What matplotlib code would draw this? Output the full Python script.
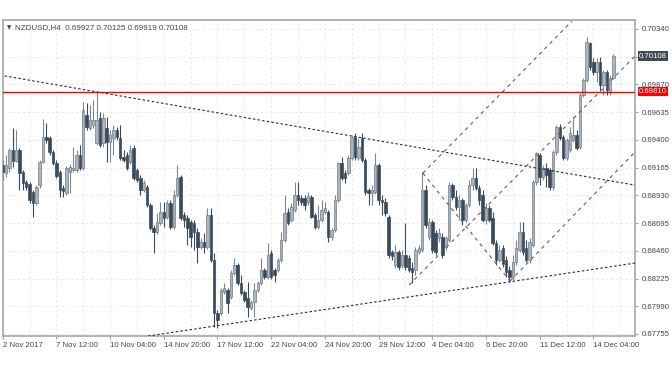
import matplotlib
matplotlib.use("Agg")
import matplotlib.pyplot as plt
import matplotlib.transforms as mtrans
import numpy as np

# ---------------- data (NZDUSD H4 candles) ----------------
opens = [
    0.69186, 0.69118, 0.69161, 0.69313, 0.69220, 0.69313, 0.69127, 0.69042, 0.69026, 0.68958,
    0.68865, 0.69017, 0.69212, 0.69424, 0.69415, 0.69297, 0.69203, 0.69127, 0.68992, 0.68949,
    0.69127, 0.69144, 0.69144, 0.69271, 0.69161, 0.69610, 0.69500, 0.69525, 0.69373, 0.69585,
    0.69373, 0.69500, 0.69381, 0.69415, 0.69483, 0.69415, 0.69254, 0.69271, 0.69212, 0.69330,
    0.69144, 0.69076, 0.68975, 0.69000, 0.68848, 0.68653, 0.68619, 0.68695, 0.68788, 0.68746,
    0.68865, 0.68661, 0.68932, 0.69085, 0.68763, 0.68738, 0.68704, 0.68695, 0.68619, 0.68492,
    0.68534, 0.68492, 0.68763, 0.68382, 0.67933, 0.67933, 0.68111, 0.68128, 0.68068, 0.68272,
    0.68339, 0.68187, 0.68111, 0.68060, 0.67975, 0.68026, 0.68128, 0.68187, 0.68297, 0.68238,
    0.68441, 0.68297, 0.68297, 0.68382, 0.68551, 0.68788, 0.68721, 0.68805, 0.68932, 0.68907,
    0.68907, 0.68873, 0.68915, 0.68763, 0.68661, 0.68721, 0.68788, 0.68788, 0.68577, 0.68636,
    0.68890, 0.69203, 0.69118, 0.69118, 0.69246, 0.69424, 0.69246, 0.69415, 0.69229, 0.68975,
    0.68949, 0.68958, 0.69186, 0.68890, 0.68873, 0.68746, 0.68450, 0.68339, 0.68450, 0.68339,
    0.68424, 0.68399, 0.68314, 0.68297, 0.68450, 0.68466, 0.68975, 0.68577, 0.68704, 0.68610,
    0.68568, 0.68577, 0.68492, 0.68551, 0.69017, 0.68915, 0.68831, 0.68890, 0.68721, 0.68848,
    0.69017, 0.69076, 0.68992, 0.68932, 0.68721, 0.68822, 0.68738, 0.68526, 0.68382, 0.68483,
    0.68382, 0.68297, 0.68238, 0.68365, 0.68466, 0.68619, 0.68483, 0.68382, 0.68509, 0.69042,
    0.69271, 0.69085, 0.69161, 0.69144, 0.69000, 0.69297, 0.69508, 0.69424, 0.69246, 0.69313,
    0.69398, 0.69441, 0.69339, 0.69779, 0.69906, 0.70220, 0.70059, 0.69974, 0.70059, 0.69864,
    0.69974, 0.69805, 0.69927,
]
highs = [
    0.69229, 0.69271, 0.69330, 0.69500, 0.69483, 0.69330, 0.69144, 0.69059, 0.69042, 0.68975,
    0.69017, 0.69229, 0.69576, 0.69542, 0.69432, 0.69313, 0.69229, 0.69144, 0.69017, 0.69178,
    0.69195, 0.69339, 0.69313, 0.69356, 0.69720, 0.69712, 0.69695, 0.69737, 0.69805, 0.69635,
    0.69627, 0.69593, 0.69483, 0.69525, 0.69508, 0.69525, 0.69313, 0.69297, 0.69356, 0.69356,
    0.69161, 0.69102, 0.69059, 0.69017, 0.68865, 0.68678, 0.68780, 0.68873, 0.68873, 0.68890,
    0.68890, 0.68975, 0.69186, 0.69102, 0.68788, 0.68763, 0.68721, 0.68721, 0.68653, 0.68568,
    0.68610, 0.68822, 0.68822, 0.68441, 0.67958, 0.68145, 0.68187, 0.68145, 0.68297, 0.68399,
    0.68356, 0.68255, 0.68128, 0.68195, 0.68043, 0.68187, 0.68204, 0.68399, 0.68314, 0.68526,
    0.68466, 0.68314, 0.68399, 0.68619, 0.68932, 0.68822, 0.68865, 0.69042, 0.69042, 0.68932,
    0.68932, 0.68958, 0.68932, 0.68780, 0.68848, 0.68890, 0.68873, 0.68805, 0.68653, 0.68932,
    0.69212, 0.69254, 0.69144, 0.69271, 0.69441, 0.69457, 0.69415, 0.69457, 0.69246, 0.68992,
    0.69017, 0.69288, 0.69203, 0.68932, 0.68907, 0.68763, 0.68466, 0.68509, 0.68466, 0.68466,
    0.68695, 0.68424, 0.68365, 0.68492, 0.68509, 0.69127, 0.69017, 0.68738, 0.68721, 0.68636,
    0.68653, 0.68610, 0.68585, 0.69042, 0.69034, 0.68975, 0.68932, 0.68907, 0.68865, 0.69059,
    0.69161, 0.69161, 0.69017, 0.68975, 0.68865, 0.68848, 0.68788, 0.68551, 0.68509, 0.68509,
    0.68416, 0.68331, 0.68424, 0.68551, 0.68704, 0.68704, 0.68551, 0.68568, 0.69059, 0.69297,
    0.69288, 0.69186, 0.69203, 0.69161, 0.69313, 0.69525, 0.69534, 0.69441, 0.69415, 0.69508,
    0.69593, 0.69483, 0.69796, 0.69923, 0.70271, 0.70228, 0.70093, 0.70093, 0.70101, 0.69991,
    0.69991, 0.69949, 0.70125,
]
lows = [
    0.69059, 0.69085, 0.69127, 0.69169, 0.69212, 0.68975, 0.68975, 0.68975, 0.68865, 0.68746,
    0.68848, 0.68992, 0.69203, 0.69373, 0.69271, 0.69186, 0.69076, 0.68915, 0.68915, 0.68932,
    0.68949, 0.69127, 0.69127, 0.69144, 0.69144, 0.69483, 0.69483, 0.69500, 0.69356, 0.69339,
    0.69339, 0.69212, 0.69212, 0.69271, 0.69398, 0.69229, 0.69212, 0.69144, 0.69195, 0.69059,
    0.69042, 0.68932, 0.68958, 0.68831, 0.68636, 0.68441, 0.68602, 0.68678, 0.68661, 0.68729,
    0.68644, 0.68644, 0.68915, 0.68721, 0.68661, 0.68509, 0.68492, 0.68466, 0.68356, 0.68475,
    0.68441, 0.68475, 0.68365, 0.67814, 0.67806, 0.67916, 0.68094, 0.67933, 0.68051, 0.68255,
    0.68170, 0.68085, 0.68026, 0.67899, 0.67958, 0.67899, 0.68111, 0.68170, 0.68221, 0.68221,
    0.68221, 0.68195, 0.68280, 0.68365, 0.68534, 0.68678, 0.68704, 0.68788, 0.68848, 0.68848,
    0.68805, 0.68848, 0.68738, 0.68644, 0.68644, 0.68704, 0.68771, 0.68534, 0.68551, 0.68619,
    0.68873, 0.69059, 0.69034, 0.69102, 0.69229, 0.69229, 0.69229, 0.69212, 0.68932, 0.68848,
    0.68848, 0.68941, 0.68848, 0.68763, 0.68754, 0.68399, 0.68382, 0.68314, 0.68297, 0.68314,
    0.68297, 0.68280, 0.68187, 0.68255, 0.68433, 0.68450, 0.68653, 0.68551, 0.68441, 0.68424,
    0.68534, 0.68399, 0.68466, 0.68534, 0.68890, 0.68805, 0.68721, 0.68678, 0.68704, 0.68831,
    0.68975, 0.68975, 0.68848, 0.68704, 0.68687, 0.68704, 0.68509, 0.68339, 0.68365, 0.68323,
    0.68238, 0.68195, 0.68212, 0.68339, 0.68450, 0.68424, 0.68365, 0.68356, 0.68492, 0.69017,
    0.69017, 0.69059, 0.69000, 0.68975, 0.68975, 0.69271, 0.69398, 0.69229, 0.69229, 0.69297,
    0.69381, 0.69313, 0.69322, 0.69762, 0.69889, 0.69991, 0.69949, 0.69889, 0.69822, 0.69779,
    0.69779, 0.69779, 0.69919,
]
closes = [
    0.69127, 0.69186, 0.69313, 0.69220, 0.69313, 0.69118, 0.69034, 0.69000, 0.68890, 0.68865,
    0.69000, 0.69212, 0.69424, 0.69398, 0.69297, 0.69203, 0.69093, 0.68975, 0.68966, 0.69161,
    0.69169, 0.69161, 0.69271, 0.69161, 0.69652, 0.69508, 0.69568, 0.69568, 0.69568, 0.69356,
    0.69585, 0.69381, 0.69441, 0.69483, 0.69424, 0.69246, 0.69229, 0.69161, 0.69313, 0.69076,
    0.69059, 0.68975, 0.69034, 0.68848, 0.68653, 0.68619, 0.68704, 0.68788, 0.68738, 0.68865,
    0.68661, 0.68932, 0.69076, 0.68738, 0.68721, 0.68653, 0.68577, 0.68619, 0.68492, 0.68534,
    0.68492, 0.68763, 0.68382, 0.67933, 0.67874, 0.68128, 0.68145, 0.68018, 0.68272, 0.68339,
    0.68187, 0.68102, 0.68043, 0.67984, 0.68026, 0.68128, 0.68187, 0.68297, 0.68238, 0.68424,
    0.68238, 0.68255, 0.68382, 0.68551, 0.68780, 0.68695, 0.68831, 0.68932, 0.68890, 0.68873,
    0.68848, 0.68924, 0.68746, 0.68661, 0.68721, 0.68805, 0.68822, 0.68577, 0.68636, 0.68890,
    0.69203, 0.69076, 0.69076, 0.69246, 0.69424, 0.69254, 0.69339, 0.69229, 0.68958, 0.68949,
    0.68975, 0.69186, 0.68890, 0.68873, 0.68780, 0.68424, 0.68416, 0.68450, 0.68323, 0.68424,
    0.68323, 0.68297, 0.68280, 0.68466, 0.68483, 0.68975, 0.68678, 0.68704, 0.68466, 0.68450,
    0.68610, 0.68424, 0.68568, 0.69017, 0.68915, 0.68831, 0.68890, 0.68721, 0.68848, 0.69017,
    0.69076, 0.68992, 0.68890, 0.68721, 0.68822, 0.68721, 0.68526, 0.68382, 0.68466, 0.68348,
    0.68280, 0.68238, 0.68365, 0.68483, 0.68619, 0.68450, 0.68382, 0.68534, 0.69042, 0.69288,
    0.69085, 0.69161, 0.69102, 0.69000, 0.69297, 0.69508, 0.69415, 0.69246, 0.69398, 0.69457,
    0.69441, 0.69330, 0.69779, 0.69906, 0.70228, 0.70017, 0.69974, 0.70059, 0.69864, 0.69974,
    0.69822, 0.69923, 0.70108,
]

x_tick_bars = [0, 16, 32, 48, 64, 80, 96, 112, 128, 144, 160, 176]
x_tick_labels = ["2 Nov 2017", "7 Nov 12:00", "10 Nov 04:00", "14 Nov 20:00",
                 "17 Nov 12:00", "22 Nov 04:00", "24 Nov 20:00", "29 Nov 12:00",
                 "4 Dec 04:00", "6 Dec 20:00", "11 Dec 12:00", "14 Dec 04:00"]
y_ticks = [0.70340, 0.70105, 0.69870, 0.69635, 0.69400, 0.69165, 0.68930,
           0.68695, 0.68460, 0.68225, 0.67990, 0.67755]
y_tick_labels = ["0.70340", "", "0.69870", "0.69635", "0.69400", "0.69165", "0.68930",
                 "0.68695", "0.68460", "0.68225", "0.67990", "0.67755"]

symbol_title = "NZDUSD,H4  0.69927 0.70125 0.69919 0.70108"
level_price = 0.69810
last_price = 0.70108

# drawn objects (bar index, price) end points
resistance_pts = ([-0.8, 188.4], [0.69949, 0.69017])
support_pts = ([43.3, 188.4], [0.67738, 0.68356])
channel_top_pts = ([125.2, 169.6], [0.69118, 0.70406])
channel_mid_pts = ([121.1, 188.4], [0.68170, 0.70110])
channel_low_pts = ([151.2, 188.4], [0.68204, 0.69297])
cross_pts = ([125.2, 151.2], [0.69118, 0.68204])

# ---------------- figure ----------------
W, H = 672, 372
fig = plt.figure(figsize=(W / 100, H / 100), dpi=100)
fig.patch.set_facecolor("white")
ax_l, ax_r, ax_t, ax_b = 2.5, 635.0, 20.0, 336.0
ax = fig.add_axes([ax_l / W, (H - ax_b) / H, (ax_r - ax_l) / W, (ax_b - ax_t) / H])
ax.set_facecolor("white")

o = np.array(opens); h = np.array(highs); l = np.array(lows); c = np.array(closes)
idx = np.arange(len(c))
bull = c >= o

bull_fill = "#aeb5bd"
bull_edge = "#717b86"
bear_col = "#3b4a5b"

# grid
grid_style = dict(color="#e6e6e6", lw=0.7, ls=(0, (2, 3)), zorder=0)
for yt in y_ticks:
    ax.axhline(yt, **grid_style)
for xv in range(0, 189, 8):
    ax.axvline(xv, **grid_style)

# wicks
ax.vlines(idx[bull], l[bull], h[bull], color="#7d8690", lw=0.8, zorder=2)
ax.vlines(idx[~bull], l[~bull], h[~bull], color=bear_col, lw=0.8, zorder=2)
# bodies
bh = np.maximum(np.abs(c - o), 0.00004)
bb = np.minimum(o, c)
ax.bar(idx[bull], bh[bull], bottom=bb[bull], width=0.74, color=bull_fill,
       edgecolor=bull_edge, linewidth=0.5, zorder=3)
ax.bar(idx[~bull], bh[~bull], bottom=bb[~bull], width=0.74, color=bear_col,
       edgecolor=bear_col, linewidth=0.5, zorder=3)

# objects
trend_style = dict(color="#2a2a2a", lw=0.8, ls=(0, (2.2, 2.0)), zorder=4)
chan_style = dict(color="#606060", lw=0.8, ls=(0, (3.2, 3.6)), zorder=4)
ax.plot(*resistance_pts, **trend_style)
ax.plot(*support_pts, **trend_style)
ax.plot(*channel_top_pts, **chan_style)
ax.plot(*channel_mid_pts, **chan_style)
ax.plot(*channel_low_pts, **chan_style)
ax.plot(*cross_pts, **chan_style)
ax.axhline(level_price, color="#ff0000", lw=1.0, zorder=5)

ax.set_xlim((ax_l - 2.7) / 3.356, (ax_r - 2.7) / 3.356)
ax.set_ylim(0.67738, 0.70416)

# axes styling
frame_col = "#9ba1a8"
for s in ax.spines.values():
    s.set_color(frame_col)
    s.set_linewidth(1.1)

font = "Liberation Sans"
ax.yaxis.tick_right()
ax.set_yticks(y_ticks)
ax.set_yticklabels(y_tick_labels)
ax.set_xticks(x_tick_bars)
ax.set_xticklabels(x_tick_labels, ha="left")
ax.tick_params(axis="both", direction="out", length=2.5, width=0.8, color=frame_col,
               labelsize=5.6, labelcolor="#454545")
ax.tick_params(axis="x", pad=1.8)
ax.tick_params(axis="y", pad=2.5)
for t in ax.get_xticklabels() + ax.get_yticklabels():
    t.set_fontfamily(font)

# price labels on the right scale
blend = mtrans.blended_transform_factory(ax.transAxes, ax.transData)
xoff = 1 + 4.0 / (ax_r - ax_l)
ax.text(xoff, last_price, "0.70108", transform=blend, ha="left", va="center",
        fontsize=5.6, family=font, color="white", zorder=10, clip_on=False,
        bbox=dict(boxstyle="square,pad=0.18", fc="#404a55", ec="none"))
ax.text(xoff, level_price, "0.69810", transform=blend, ha="left", va="center",
        fontsize=5.6, family=font, color="white", zorder=10, clip_on=False,
        bbox=dict(boxstyle="square,pad=0.18", fc="#ff0000", ec="none"))

# title
fig.text(6.5 / W, 1 - 27.5 / H, "\u25bc", fontsize=4.0, color="#454545",
         ha="left", va="center", family="DejaVu Sans")
fig.text(15 / W, 1 - 27.5 / H, symbol_title, fontsize=5.8, color="#454545",
         ha="left", va="center", family=font)

fig.savefig("out.png", dpi=100, facecolor="white")
